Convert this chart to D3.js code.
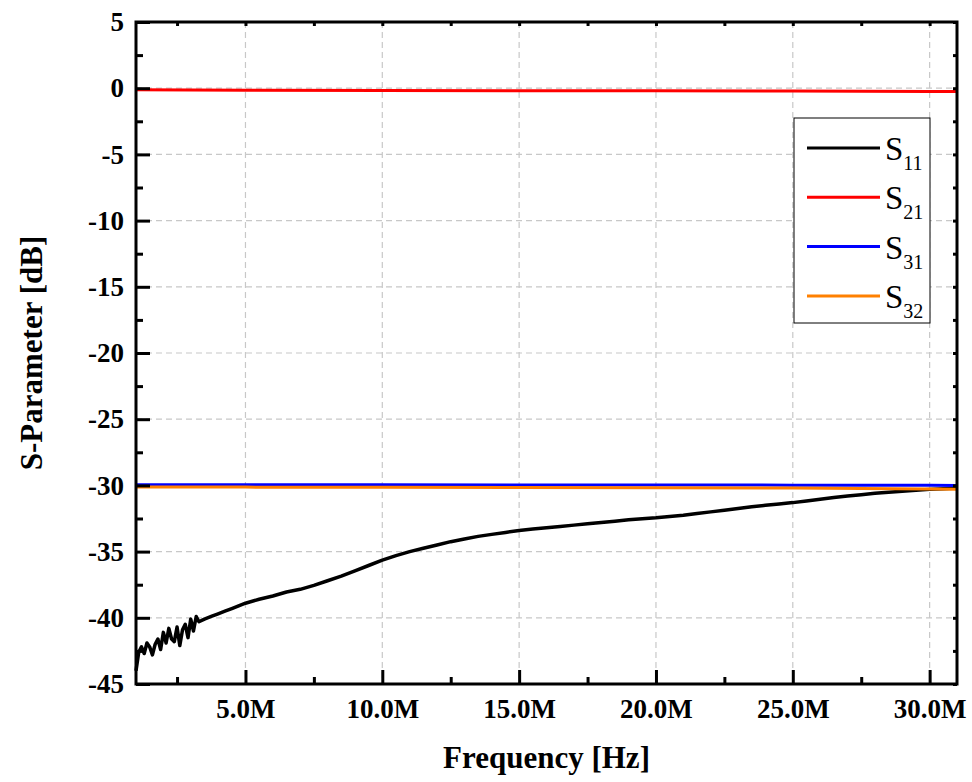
<!DOCTYPE html>
<html>
<head>
<meta charset="utf-8">
<script src="https://cdn.jsdelivr.net/npm/d3@7"></script>
<style>
    body { margin: 0; background: #fff; }
    svg text { font-family: "Liberation Serif", "Times New Roman", serif; }
    .tick text { font-family: "Liberation Serif", serif; font-weight: bold; font-size: 27px; fill: #000; }
</style>
</head>
<body>
<div class="data_figure"></div>
<script>
// frequency in MHz
const s11Freq = [1.0, 1.1, 1.2, 1.3, 1.4, 1.5, 1.6, 1.7, 1.8, 1.9, 2.0, 2.1, 2.2, 2.3, 2.4,
    2.5, 2.6, 2.7, 2.8, 2.9, 3.0, 3.1, 3.2, 3.3, 3.5, 3.75, 4.0, 4.25, 4.5, 4.75, 5.0, 5.5,
    6.0, 6.5, 7.0, 7.5, 8.0, 8.5, 9.0, 9.5, 10.0, 10.5, 11.0, 11.5, 12.0, 12.5, 13.0, 13.5,
    14.0, 14.5, 15.0, 15.5, 16, 16.5, 17, 17.5, 18, 18.5, 19, 19.5, 20, 20.5, 21, 21.5, 22,
    22.5, 23, 23.5, 24, 24.5, 25, 25.5, 26, 26.5, 27, 27.5, 28, 28.5, 29, 29.5, 30, 30.5, 31];
const s11 = [-44.0, -42.6, -42.2, -42.7, -41.9, -42.2, -42.8, -42.0, -41.6, -42.4, -41.1,
    -41.9, -40.8, -41.6, -41.8, -40.7, -42.1, -40.9, -40.5, -41.5, -40.1, -41.0, -39.9, -40.3,
    -40.1, -39.9, -39.7, -39.5, -39.3, -39.1, -38.9, -38.6, -38.35, -38.05, -37.85, -37.55,
    -37.2, -36.85, -36.45, -36.05, -35.65, -35.3, -35.0, -34.75, -34.5, -34.25, -34.05, -33.85,
    -33.7, -33.55, -33.4, -33.3, -33.2, -33.1, -33.0, -32.9, -32.8, -32.7, -32.6, -32.52,
    -32.45, -32.35, -32.25, -32.12, -32.0, -31.88, -31.75, -31.62, -31.5, -31.4, -31.3, -31.17,
    -31.05, -30.92, -30.8, -30.7, -30.6, -30.52, -30.45, -30.37, -30.3, -30.25, -30.2];

const flatFreq = [1, 5, 10, 15, 20, 25, 30, 31];
const s21 = [-0.12, -0.15, -0.18, -0.2, -0.2, -0.22, -0.24, -0.25];
const s31 = [-29.95, -29.95, -29.96, -29.97, -29.97, -29.98, -29.98, -30.0];
const s32 = [-30.12, -30.13, -30.14, -30.15, -30.17, -30.2, -30.28, -30.3];

const seriesNames = ["11", "21", "31", "32"];
const seriesColors = ["#000000", "#ff0000", "#0000ff", "#ff8000"];

const xMajor = [5, 10, 15, 20, 25, 30];
const xMinor = [2.5, 7.5, 12.5, 17.5, 22.5, 27.5];
const yMajor = [-45, -40, -35, -30, -25, -20, -15, -10, -5, 0, 5];
const yMinor = [-42.5, -37.5, -32.5, -27.5, -22.5, -17.5, -12.5, -7.5, -2.5, 2.5];

const widthMax = 972;
const heightMax = 782;
const margin = { top: 22, left: 136, right: 15, bottom: 98 };
const width = widthMax - margin.left - margin.right;
const height = heightMax - margin.top - margin.bottom;

const xScale = d3.scaleLinear().domain([1, 31]).range([0, width]);
const yScale = d3.scaleLinear().domain([-45, 5]).range([height, 0]);

let svg = d3.select(".data_figure")
    .append("svg")
    .attr("width", widthMax)
    .attr("height", heightMax)
    .append("g")
    .attr("transform", "translate(" + margin.left + "," + margin.top + ")");

// grid
svg.selectAll(".vgrid")
    .data(xMajor)
    .enter()
    .append("line")
    .attr("x1", d => xScale(d)).attr("x2", d => xScale(d))
    .attr("y1", 0).attr("y2", height)
    .attr("stroke", "#c8c8c8").attr("stroke-width", 1.2)
    .attr("stroke-dasharray", "6,4");
svg.selectAll(".hgrid")
    .data(yMajor.slice(1, -1))
    .enter()
    .append("line")
    .attr("x1", 0).attr("x2", width)
    .attr("y1", d => yScale(d)).attr("y2", d => yScale(d))
    .attr("stroke", "#c8c8c8").attr("stroke-width", 1.2)
    .attr("stroke-dasharray", "6,4");

// lines
const line = d3.line().x(d => xScale(d[0])).y(d => yScale(d[1]));
const seriesData = [
    d3.zip(s11Freq, s11),
    d3.zip(flatFreq, s21),
    d3.zip(flatFreq, s31),
    d3.zip(flatFreq, s32),
];
seriesData.forEach((pts, i) => {
    svg.append("path")
        .datum(pts)
        .attr("d", line)
        .attr("fill", "none")
        .attr("stroke", seriesColors[i])
        .attr("stroke-width", i == 0 ? 3.5 : 3)
        .attr("stroke-linejoin", "round");
});

// axes: major and minor ticks drawn inward
function styleAxis(g) {
    g.attr("font-family", null).attr("font-size", null);
    g.select(".domain").remove();
    g.selectAll(".tick line").attr("stroke", "#000").attr("stroke-width", 3);
}
svg.append("g")
    .attr("transform", "translate(0," + height + ")")
    .call(d3.axisBottom(xScale).tickValues(xMajor).tickSizeInner(-14).tickPadding(15)
        .tickFormat(d => d3.format(".1f")(d) + "M"))
    .call(styleAxis);
svg.append("g")
    .attr("transform", "translate(0," + height + ")")
    .call(d3.axisBottom(xScale).tickValues(xMinor).tickSizeInner(-7).tickFormat(""))
    .call(styleAxis);
svg.append("g")
    .call(d3.axisLeft(yScale).tickValues(yMajor).tickSizeInner(-14).tickPadding(12)
        .tickFormat(d => String(d)))
    .call(styleAxis);
svg.append("g")
    .call(d3.axisLeft(yScale).tickValues(yMinor).tickSizeInner(-7).tickFormat(""))
    .call(styleAxis);
// top / right small ticks
svg.append("g")
    .call(d3.axisTop(xScale).tickValues(xMajor.concat(xMinor)).tickSizeInner(-4).tickFormat(""))
    .call(styleAxis);
svg.append("g")
    .attr("transform", "translate(" + width + ",0)")
    .call(d3.axisRight(yScale).tickValues(yMajor.concat(yMinor)).tickSizeInner(-4).tickFormat(""))
    .call(styleAxis);

// frame
svg.append("rect")
    .attr("x", 0).attr("y", 0)
    .attr("width", width).attr("height", height)
    .attr("fill", "none")
    .attr("stroke", "#000")
    .attr("stroke-width", 3);

// axis titles
svg.append("text")
    .text("Frequency [Hz]")
    .attr("x", width / 2)
    .attr("y", height + 84)
    .attr("text-anchor", "middle")
    .style("font-weight", "bold")
    .style("font-size", "31px");
svg.append("text")
    .text("S-Parameter [dB]")
    .attr("transform", "rotate(-90)")
    .attr("x", -height / 2)
    .attr("y", -94)
    .attr("text-anchor", "middle")
    .style("font-weight", "bold")
    .style("font-size", "31px");

// legend
const legX = 658, legY = 96;
let legend = svg.append("g").attr("transform", "translate(" + legX + "," + legY + ")");
legend.append("rect")
    .attr("x", 0).attr("y", 0)
    .attr("width", 136).attr("height", 205)
    .attr("fill", "#fff")
    .attr("stroke", "#000")
    .attr("stroke-width", 1);
seriesNames.forEach((name, i) => {
    const cy = 30 + i * 49.3;
    legend.append("line")
        .attr("x1", 13).attr("x2", 86)
        .attr("y1", cy).attr("y2", cy)
        .attr("stroke", seriesColors[i])
        .attr("stroke-width", 3);
    const t = legend.append("text")
        .attr("x", 91)
        .attr("y", cy + 12)
        .style("font-size", "33px");
    t.append("tspan").text("S");
    t.append("tspan").text(name)
        .attr("dy", 10)
        .style("font-size", "20px");
});
</script>
</body>
</html>
